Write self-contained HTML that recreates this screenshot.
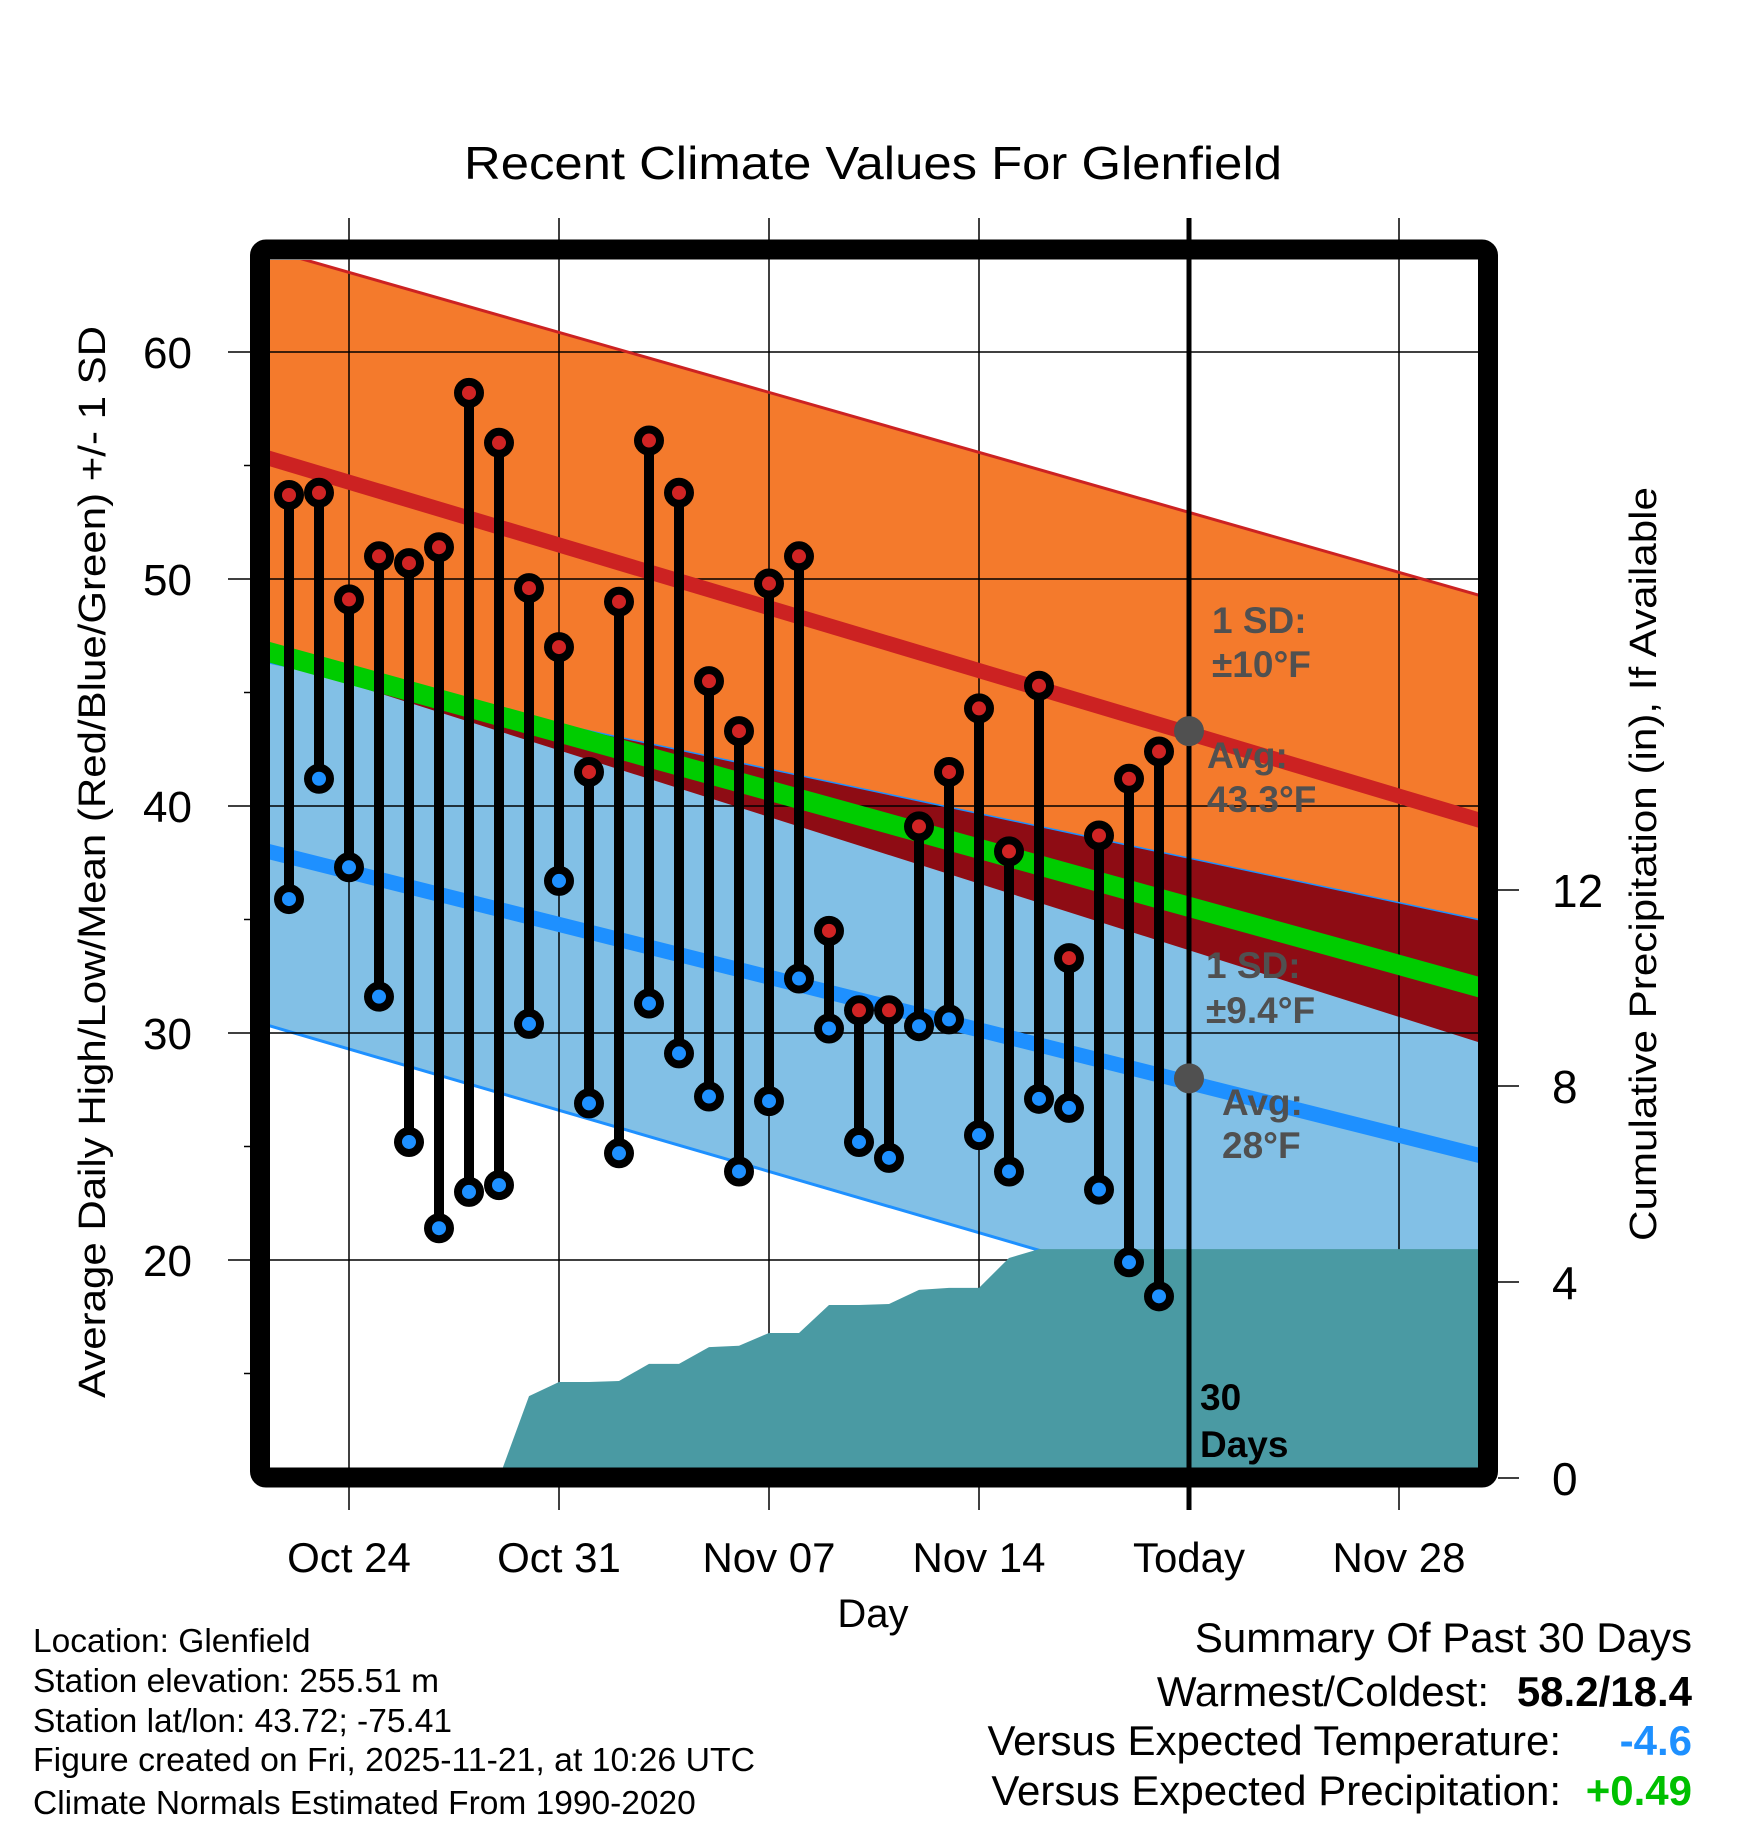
<!DOCTYPE html>
<html><head><meta charset="utf-8"><style>
html,body{margin:0;padding:0;background:#fff;}
svg{display:block;font-family:"Liberation Sans",Arial,sans-serif;}
</style></head><body>
<svg id="chart" width="1748" height="1828" viewBox="0 0 1748 1828" xmlns="http://www.w3.org/2000/svg">
<defs>
<clipPath id="plotClip"><rect x="270" y="260" width="1208" height="1208"/></clipPath>
<clipPath id="lowClip"><path id="lowClipPath"/></clipPath>
</defs>
<text x="873" y="179" font-size="46" text-anchor="middle" textLength="818" lengthAdjust="spacingAndGlyphs">Recent Climate Values For Glenfield</text>
<g id="fills" clip-path="url(#plotClip)"></g>
<g id="grid"></g>
<g id="precip" clip-path="url(#plotClip)"></g>
<g id="lines" clip-path="url(#plotClip)"></g>
<g id="annot"></g>
<g id="marks"></g>
<rect x="260" y="249.5" width="1228" height="1228" fill="none" stroke="#000" stroke-width="20" rx="6"/>
<g id="axes"></g>
<text transform="translate(105,862) rotate(-90)" font-size="38" text-anchor="middle" textLength="1072" lengthAdjust="spacingAndGlyphs">Average Daily High/Low/Mean (Red/Blue/Green) +/- 1 SD</text>
<text transform="translate(1656,864) rotate(-90)" font-size="38" text-anchor="middle" textLength="754" lengthAdjust="spacingAndGlyphs">Cumulative Precipitation (in), If Available</text>
<text x="873" y="1627" font-size="40" text-anchor="middle">Day</text>
<g font-size="33.5">
<text x="33" y="1652">Location: Glenfield</text>
<text x="33" y="1692">Station elevation: 255.51 m</text>
<text x="33" y="1732">Station lat/lon: 43.72; -75.41</text>
<text x="33" y="1771" textLength="722" lengthAdjust="spacingAndGlyphs">Figure created on Fri, 2025-11-21, at 10:26 UTC</text>
<text x="33" y="1814">Climate Normals Estimated From 1990-2020</text>
</g>
<g font-size="42">
<text x="1692" y="1652" text-anchor="end">Summary Of Past 30 Days</text>
<text x="1489" y="1706" text-anchor="end">Warmest/Coldest:</text>
<text x="1692" y="1706" text-anchor="end" font-weight="bold">58.2/18.4</text>
<text x="1561" y="1755" text-anchor="end">Versus Expected Temperature:</text>
<text x="1692" y="1755" text-anchor="end" font-weight="bold" fill="#1e90ff">-4.6</text>
<text x="1561" y="1805" text-anchor="end">Versus Expected Precipitation:</text>
<text x="1692" y="1805" text-anchor="end" font-weight="bold" fill="#00c000">+0.49</text>
</g>
</svg>
<script>
const highs = [53.7,53.8,49.1,51.0,50.7,51.4,58.2,56.0,49.6,47.0,41.5,49.0,56.1,53.8,45.5,43.3,49.8,51.0,34.5,31.0,31.0,39.1,41.5,44.3,38.0,45.3,33.3,38.7,41.2,42.4];
const lows = [35.9,41.2,37.3,31.6,25.2,21.4,23.0,23.3,30.4,36.7,26.9,24.7,31.3,29.1,27.2,23.9,27.0,32.4,30.2,25.2,24.5,30.3,30.6,25.5,23.9,27.1,26.7,23.1,19.9,18.4];
const precip = [0,0,0,0,0,0,0,0,1.67,1.96,1.96,1.98,2.33,2.33,2.67,2.7,2.96,2.96,3.53,3.53,3.55,3.84,3.88,3.88,4.49,4.67,4.67,4.67,4.67,4.67];
const normDays = [-1, 40];
const highUpper = [64.64, 49.16];
const highAvg = [55.45, 39.25];
const highLower = [46.65, 29.45];
const meanAvg = [46.9, 31.9];
const lowUpper = [46.4, 34.9];
const lowAvg = [38.1, 24.5];
const lowLower = [30.45, 14.65];
const xTickDays = [2, 9, 16, 23, 30, 37];
const xTickLabels = ["Oct 24","Oct 31","Nov 07","Nov 14","Today","Nov 28"];
const yTicks = [60, 50, 40, 30, 20];
const yMinor = [55, 45, 35, 25, 15];
const y2Ticks = [0, 4, 8, 12];
const todayIdx = 30;
const todayHighAvg = 43.3, todayLowAvg = 28.0;

const NS = "http://www.w3.org/2000/svg";
const X = d => 289 + 30 * d;
const Y = t => 352 + (60 - t) * 22.7;
const YP = p => 1478 - p * 49;
function mk(tag, attrs, parent) {
  const e = document.createElementNS(NS, tag);
  for (const k in attrs) e.setAttribute(k, attrs[k]);
  parent.appendChild(e);
  return e;
}
function linePts(arr) { return normDays.map((d, i) => X(d) + "," + Y(arr[i])); }
function bandPath(a, b) {
  const top = linePts(a), bot = linePts(b).reverse();
  return "M" + top.join(" L") + " L" + bot.join(" L") + " Z";
}
const fills = document.getElementById("fills");
let e;
e = mk("path", {d: bandPath(highUpper, highLower), fill: "#f47a2c"}, fills);


e = mk("path", {d: bandPath(lowUpper, lowLower), fill: "#82c0e6"}, fills);


document.getElementById("lowClipPath").setAttribute("d", bandPath(lowUpper, lowLower));
e = mk("path", {d: bandPath(highUpper, highLower), fill: "#8e0c14", "clip-path": "url(#lowClip)"}, fills);


e = mk("polyline", {points: linePts(lowLower).join(" "), fill: "none", stroke: "#1e90ff", "stroke-width": 3}, fills);



// grid
const grid = document.getElementById("grid");
xTickDays.forEach((d, i) => {
  const g = mk("line", {x1: X(d), x2: X(d), y1: 218, y2: 1510, stroke: "#000", "stroke-width": 1.5}, grid);
  
  
});
yTicks.forEach(t => {
  const g = mk("line", {x1: 228, x2: 1478, y1: Y(t), y2: Y(t), stroke: "#000", "stroke-width": 1.5}, grid);
  
  
});
yMinor.forEach(t => {
  const g = mk("line", {x1: 244, x2: 260, y1: Y(t), y2: Y(t), stroke: "#000", "stroke-width": 1.5}, grid);
  
  
});

// precip
const pg = document.getElementById("precip");
let pd = "M" + X(7) + "," + YP(0);
for (let i = 7; i < precip.length; i++) pd += " L" + X(i) + "," + YP(precip[i]);
pd += " L" + X(41) + "," + YP(precip[precip.length - 1]) + " L" + X(41) + "," + YP(0) + " Z";
e = mk("path", {d: pd, fill: "#4a9aa3"}, pg);



// lines
const lg = document.getElementById("lines");
function pl(arr, color, w, name) {
  const l = mk("polyline", {points: linePts(arr).join(" "), fill: "none", stroke: color, "stroke-width": w}, lg);
  
  
}
pl(highUpper, "#cc2222", 3, "high-upper-sd-line");
pl(lowUpper, "#1e90ff", 1.5, "low-upper-sd-line");
pl(meanAvg, "#00cc00", 20, "mean-avg-line");
pl(highAvg, "#cc2222", 15, "high-avg-line");
pl(lowAvg, "#1e90ff", 15, "low-avg-line");

// annotations
const an = document.getElementById("annot");
e = mk("line", {x1: X(todayIdx), x2: X(todayIdx), y1: 218, y2: 1510, stroke: "#000", "stroke-width": 5}, an);


e = mk("circle", {cx: X(todayIdx), cy: Y(todayHighAvg), r: 15, fill: "#505050"}, an);


e = mk("circle", {cx: X(todayIdx), cy: Y(todayLowAvg), r: 15, fill: "#505050"}, an);


const notes = [
  ["1 SD:", 1212, 633, "#505050", "high-sd-label"],
  ["\u00B110\u00B0F", 1212, 677, "#505050", "high-sd-value"],
  ["Avg:", 1207, 768, "#505050", "high-avg-label"],
  ["43.3\u00B0F", 1207, 812, "#505050", "high-avg-value"],
  ["1 SD:", 1206, 978, "#505050", "low-sd-label"],
  ["\u00B19.4\u00B0F", 1206, 1023, "#505050", "low-sd-value"],
  ["Avg:", 1222, 1115, "#505050", "low-avg-label"],
  ["28\u00B0F", 1222, 1158, "#505050", "low-avg-value"],
  ["30", 1200, 1410, "#000", "days-label-number"],
  ["Days", 1200, 1457, "#000", "days-label-text"]
];
notes.forEach(n => {
  const t = mk("text", {x: n[1], y: n[2], fill: n[3], "font-size": 37, "font-weight": "bold"}, an);
  t.textContent = n[0];
  
  
});

// marks
const mg = document.getElementById("marks");
highs.forEach((h, i) => {
  const s = mk("line", {x1: X(i), x2: X(i), y1: Y(h), y2: Y(lows[i]), stroke: "#000", "stroke-width": 10}, mg);
  
  
});
highs.forEach((h, i) => {
  const o = mk("circle", {cx: X(i), cy: Y(h), r: 11, fill: "#d02424", stroke: "#000", "stroke-width": 8}, mg);
  
  
  const b = mk("circle", {cx: X(i), cy: Y(lows[i]), r: 11, fill: "#1e90ff", stroke: "#000", "stroke-width": 8}, mg);
  
  
});

// axes labels
const ax = document.getElementById("axes");
yTicks.forEach(t => {
  const l = mk("text", {x: 192, y: Y(t) + 16, "font-size": 44, "text-anchor": "end"}, ax);
  l.textContent = t;
  
  
});
y2Ticks.forEach(p => {
  const k = mk("line", {x1: 1498, x2: 1519, y1: YP(p), y2: YP(p), stroke: "#000", "stroke-width": 1.5}, ax);
  
  
  const l = mk("text", {x: 1552, y: YP(p) + 17, "font-size": 46}, ax);
  l.textContent = p;
  
  
});
xTickDays.forEach((d, i) => {
  const l = mk("text", {x: X(d), y: 1572, "font-size": 42, "text-anchor": "middle"}, ax);
  l.textContent = xTickLabels[i];
  
  
});
</script>
</body></html>
